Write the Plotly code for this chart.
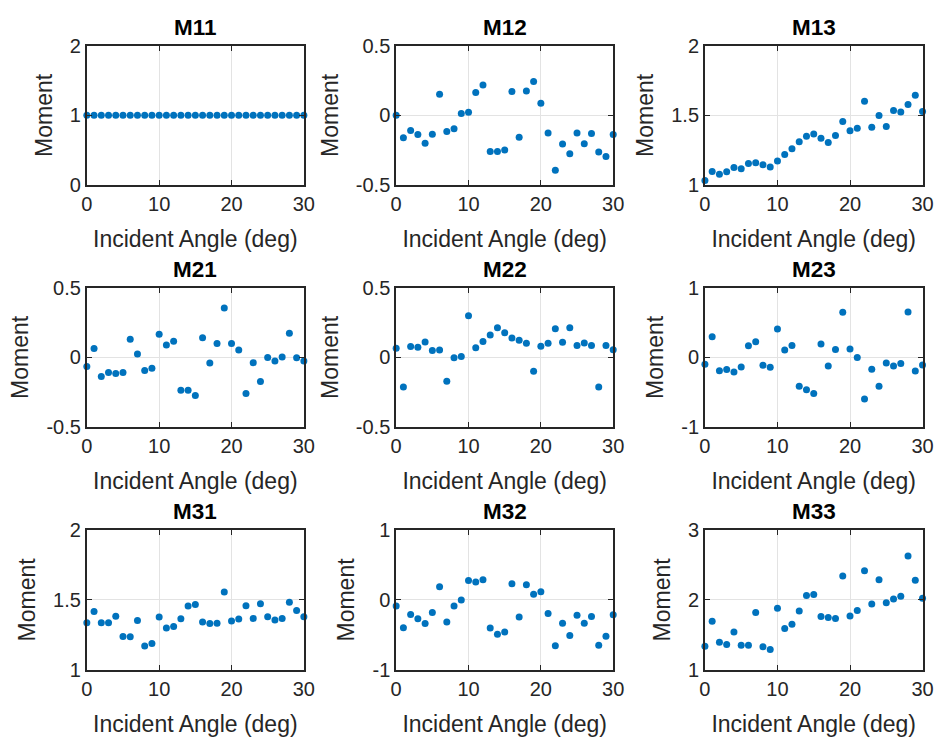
import plotly.graph_objects as go

angles = list(range(31))

titles = ["M11", "M12", "M13", "M21", "M22", "M23", "M31", "M32", "M33"]

m11 = [1.0] * 31
m12 = [0.0, -0.161, -0.108, -0.138, -0.201, -0.136, 0.152, -0.115, -0.096, 0.013, 0.022,
       0.164, 0.217, -0.259, -0.259, -0.249, 0.171, -0.157, 0.175, 0.242, 0.087,
       -0.126, -0.393, -0.205, -0.275, -0.126, -0.203, -0.131, -0.263, -0.296, -0.138]
m13 = [1.032, 1.097, 1.077, 1.095, 1.125, 1.116, 1.155, 1.160, 1.146, 1.130, 1.172,
       1.220, 1.260, 1.311, 1.350, 1.367, 1.336, 1.306, 1.355, 1.455, 1.390,
       1.408, 1.601, 1.415, 1.499, 1.420, 1.534, 1.524, 1.578, 1.645, 1.527]
m21 = [-0.066, 0.064, -0.138, -0.108, -0.115, -0.108, 0.129, 0.024, -0.094, -0.078, 0.166,
       0.089, 0.115, -0.236, -0.236, -0.273, 0.140, -0.041, 0.099, 0.354, 0.099,
       0.052, -0.259, -0.038, -0.173, -0.001, -0.027, 0.003, 0.173, -0.003, -0.027]
m22 = [0.066, -0.212, 0.078, 0.073, 0.110, 0.050, 0.052, -0.171, -0.003, 0.006, 0.298,
       0.068, 0.113, 0.161, 0.212, 0.177, 0.138, 0.122, 0.101, -0.099, 0.080,
       0.101, 0.205, 0.108, 0.212, 0.085, 0.103, 0.085, -0.212, 0.085, 0.055]
m23 = [-0.100, 0.295, -0.193, -0.174, -0.211, -0.137, 0.165, 0.225, -0.114, -0.141, 0.406,
       0.104, 0.169, -0.415, -0.466, -0.517, 0.193, -0.123, 0.114, 0.647, 0.118,
       -0.002, -0.596, -0.169, -0.415, -0.081, -0.123, -0.090, 0.652, -0.197, -0.109]
m31 = [1.336, 1.417, 1.336, 1.336, 1.384, 1.238, 1.236, 1.352, 1.171, 1.188, 1.377,
       1.299, 1.310, 1.366, 1.456, 1.468, 1.343, 1.331, 1.333, 1.556, 1.350,
       1.363, 1.458, 1.368, 1.472, 1.380, 1.356, 1.368, 1.484, 1.424, 1.380]
m32 = [-0.088, -0.398, -0.208, -0.269, -0.338, -0.181, 0.190, -0.315, -0.088, 0.0, 0.278,
       0.255, 0.287, -0.403, -0.491, -0.458, 0.231, -0.245, 0.218, 0.083, 0.116,
       -0.194, -0.657, -0.333, -0.509, -0.218, -0.333, -0.236, -0.648, -0.519, -0.213]
m33 = [1.338, 1.694, 1.394, 1.361, 1.542, 1.352, 1.352, 1.819, 1.329, 1.292, 1.880,
       1.593, 1.653, 1.843, 2.065, 2.079, 1.764, 1.750, 1.736, 2.343, 1.769,
       1.847, 2.417, 1.940, 2.287, 1.958, 2.014, 2.051, 2.630, 2.282, 2.023]

series = [m11, m12, m13, m21, m22, m23, m31, m32, m33]

y_ranges = [[0, 2], [-0.5, 0.5], [1, 2],
            [-0.5, 0.5], [-0.5, 0.5], [-1, 1],
            [1, 2], [-1, 1], [1, 3]]
y_ticks = [[0, 1, 2], [-0.5, 0, 0.5], [1, 1.5, 2],
           [-0.5, 0, 0.5], [-0.5, 0, 0.5], [-1, 0, 1],
           [1, 1.5, 2], [-1, 0, 1], [1, 2, 3]]
y_ticktext = [["0", "1", "2"], ["-0.5", "0", "0.5"], ["1", "1.5", "2"],
              ["-0.5", "0", "0.5"], ["-0.5", "0", "0.5"], ["-1", "0", "1"],
              ["1", "1.5", "2"], ["-1", "0", "1"], ["1", "2", "3"]]
x_ticks = [0, 10, 20, 30]

W, H = 947, 751
col_px = [(82.3, 303.3), (397.3, 618.3), (711.7, 933.3)]
row_px = [(35.7, 179.3), (285.0, 428.6), (534.7, 678.7)]

FONT = "Liberation Sans, Arial, Helvetica, sans-serif"
AX = "#262626"
BLUE = "#0072BD"

fig = go.Figure()
annotations = []
for k in range(9):
    r, c = divmod(k, 3)
    xd = [col_px[c][0] / W, col_px[c][1] / W]
    yd = [1 - row_px[r][1] / H, 1 - row_px[r][0] / H]
    sfx = "" if k == 0 else str(k + 1)
    fig.add_trace(go.Scatter(
        x=angles, y=series[k], mode="markers",
        marker=dict(color=BLUE, size=7, line=dict(width=0)),
        cliponaxis=False, showlegend=False,
        xaxis="x" + sfx, yaxis="y" + sfx,
    ))
    common = dict(
        showline=True, linecolor=AX, linewidth=1.8, mirror="ticks",
        ticks="inside", ticklen=5, tickwidth=1.2, tickcolor=AX,
        showgrid=True, gridcolor="#e3e3e3", gridwidth=1, zeroline=False,
        tickfont=dict(family=FONT, size=20, color=AX),
    )
    fig.layout["xaxis" + sfx] = dict(
        common, domain=xd, range=[0, 30], tickvals=x_ticks,
        anchor="y" + sfx,
        title=dict(text="Incident Angle (deg)", font=dict(family=FONT, size=23, color=AX), standoff=17),
    )
    fig.layout["yaxis" + sfx] = dict(
        common, domain=yd, range=y_ranges[k], tickvals=y_ticks[k], ticktext=y_ticktext[k],
        anchor="x" + sfx,
        title=dict(text="Moment", font=dict(family=FONT, size=23, color=AX), standoff=11),
    )
    annotations.append(dict(
        text="<b>" + titles[k] + "</b>", xref="paper", yref="paper",
        x=(xd[0] + xd[1]) / 2, y=yd[1], xanchor="center", yanchor="bottom",
        yshift=4, showarrow=False, font=dict(family=FONT, size=22.5, color="#000000"),
    ))

fig.update_layout(
    width=W, height=H, margin=dict(l=0, r=0, t=0, b=0),
    paper_bgcolor="white", plot_bgcolor="white",
    annotations=annotations,
)

fig.write_html("out.html")
